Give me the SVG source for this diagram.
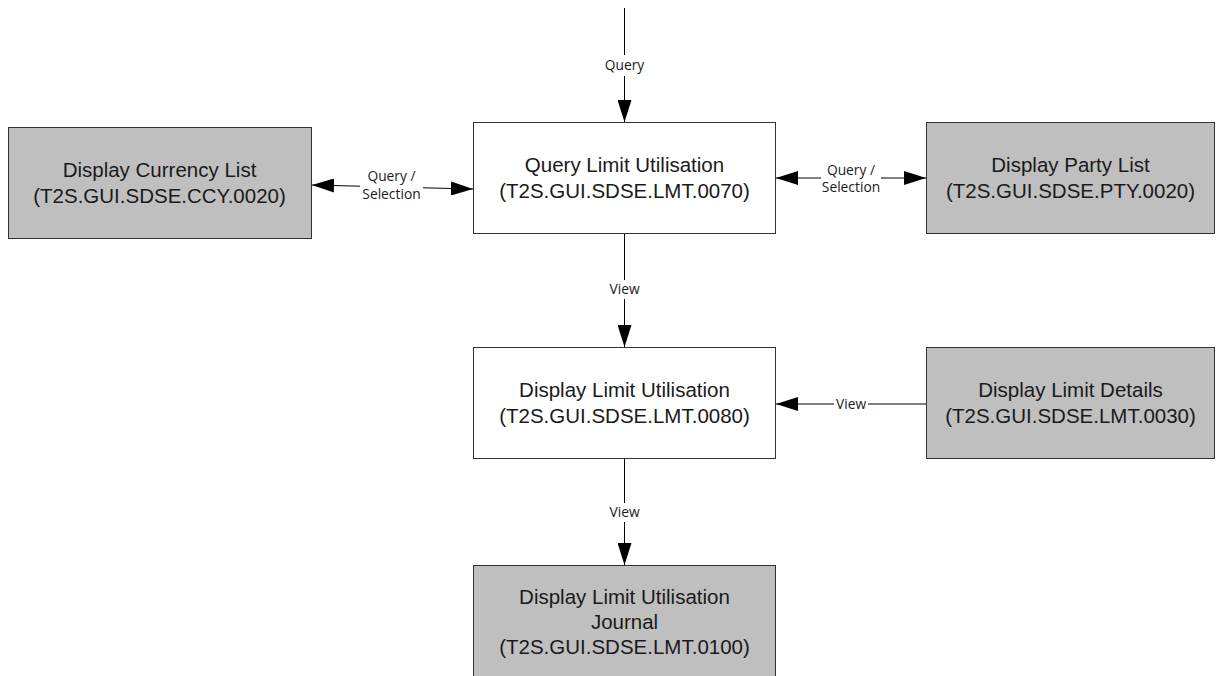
<svg xmlns="http://www.w3.org/2000/svg" width="1223" height="676" viewBox="0 0 1223 676">
<style>
.box{stroke:#333;stroke-width:1;}
.w{fill:#ffffff;}
.g{fill:#bfbfbf;}
.nt{font-family:"Liberation Sans",Arial,sans-serif;font-size:20.5px;fill:#1a1a1a;text-anchor:middle;}
.lt{font-family:"Open Sans","Noto Sans",sans-serif;font-size:13.8px;fill:#1a1a1a;text-anchor:middle;}
.c{stroke:#000;stroke-width:1;fill:none;}
</style>
<defs>
<marker id="ah" markerUnits="userSpaceOnUse" markerWidth="22" markerHeight="14" refX="22" refY="7" orient="auto-start-reverse">
<path d="M0,0 L22,7 L0,14 z" fill="#000"/>
</marker>
</defs>
<rect width="1223" height="676" fill="#fff"/>
<g id="connectors">
<line class="c" x1="624.5" y1="8" x2="624.5" y2="55"/>
<line class="c" x1="624.5" y1="76" x2="624.5" y2="122" marker-end="url(#ah)"/>
<text class="lt" x="624.5" y="70">Query</text>
<line class="c" x1="312" y1="185" x2="360" y2="186.2" marker-start="url(#ah)"/>
<line class="c" x1="423" y1="187.8" x2="473" y2="189" marker-end="url(#ah)"/>
<text class="lt" x="391.5" y="181">Query /</text>
<text class="lt" x="391.5" y="199">Selection</text>
<line class="c" x1="776" y1="178" x2="821" y2="178" marker-start="url(#ah)"/>
<line class="c" x1="881" y1="178" x2="926" y2="178" marker-end="url(#ah)"/>
<text class="lt" x="851" y="175">Query /</text>
<text class="lt" x="851" y="192">Selection</text>
<line class="c" x1="624.5" y1="234" x2="624.5" y2="280"/>
<line class="c" x1="624.5" y1="299" x2="624.5" y2="347" marker-end="url(#ah)"/>
<text class="lt" x="624.5" y="294">View</text>
<line class="c" x1="926" y1="404" x2="868" y2="404"/>
<line class="c" x1="834" y1="404" x2="776" y2="404" marker-end="url(#ah)"/>
<text class="lt" x="851" y="409">View</text>
<line class="c" x1="624.5" y1="459" x2="624.5" y2="503"/>
<line class="c" x1="624.5" y1="522" x2="624.5" y2="565" marker-end="url(#ah)"/>
<text class="lt" x="624.5" y="517">View</text>
</g>
<g id="node-query">
<rect class="box w" x="473.5" y="122.5" width="302" height="111"/>
<text class="nt" x="624.5" y="172">Query Limit Utilisation</text>
<text class="nt" x="624.5" y="198">(T2S.GUI.SDSE.LMT.0070)</text>
</g>
<g id="node-currency">
<rect class="box g" x="8.5" y="127.5" width="303" height="111"/>
<text class="nt" x="159.5" y="177">Display Currency List</text>
<text class="nt" x="159.5" y="203">(T2S.GUI.SDSE.CCY.0020)</text>
</g>
<g id="node-party">
<rect class="box g" x="926.5" y="122.5" width="288" height="111"/>
<text class="nt" x="1070.5" y="172">Display Party List</text>
<text class="nt" x="1070.5" y="198">(T2S.GUI.SDSE.PTY.0020)</text>
</g>
<g id="node-display">
<rect class="box w" x="473.5" y="347.5" width="302" height="111"/>
<text class="nt" x="624.5" y="397">Display Limit Utilisation</text>
<text class="nt" x="624.5" y="423">(T2S.GUI.SDSE.LMT.0080)</text>
</g>
<g id="node-details">
<rect class="box g" x="926.5" y="347.5" width="288" height="111"/>
<text class="nt" x="1070.5" y="397">Display Limit Details</text>
<text class="nt" x="1070.5" y="423">(T2S.GUI.SDSE.LMT.0030)</text>
</g>
<g id="node-journal">
<rect class="box g" x="473.5" y="565.5" width="302" height="120"/>
<text class="nt" x="624.5" y="604">Display Limit Utilisation</text>
<text class="nt" x="624.5" y="629">Journal</text>
<text class="nt" x="624.5" y="654">(T2S.GUI.SDSE.LMT.0100)</text>
</g>
</svg>
